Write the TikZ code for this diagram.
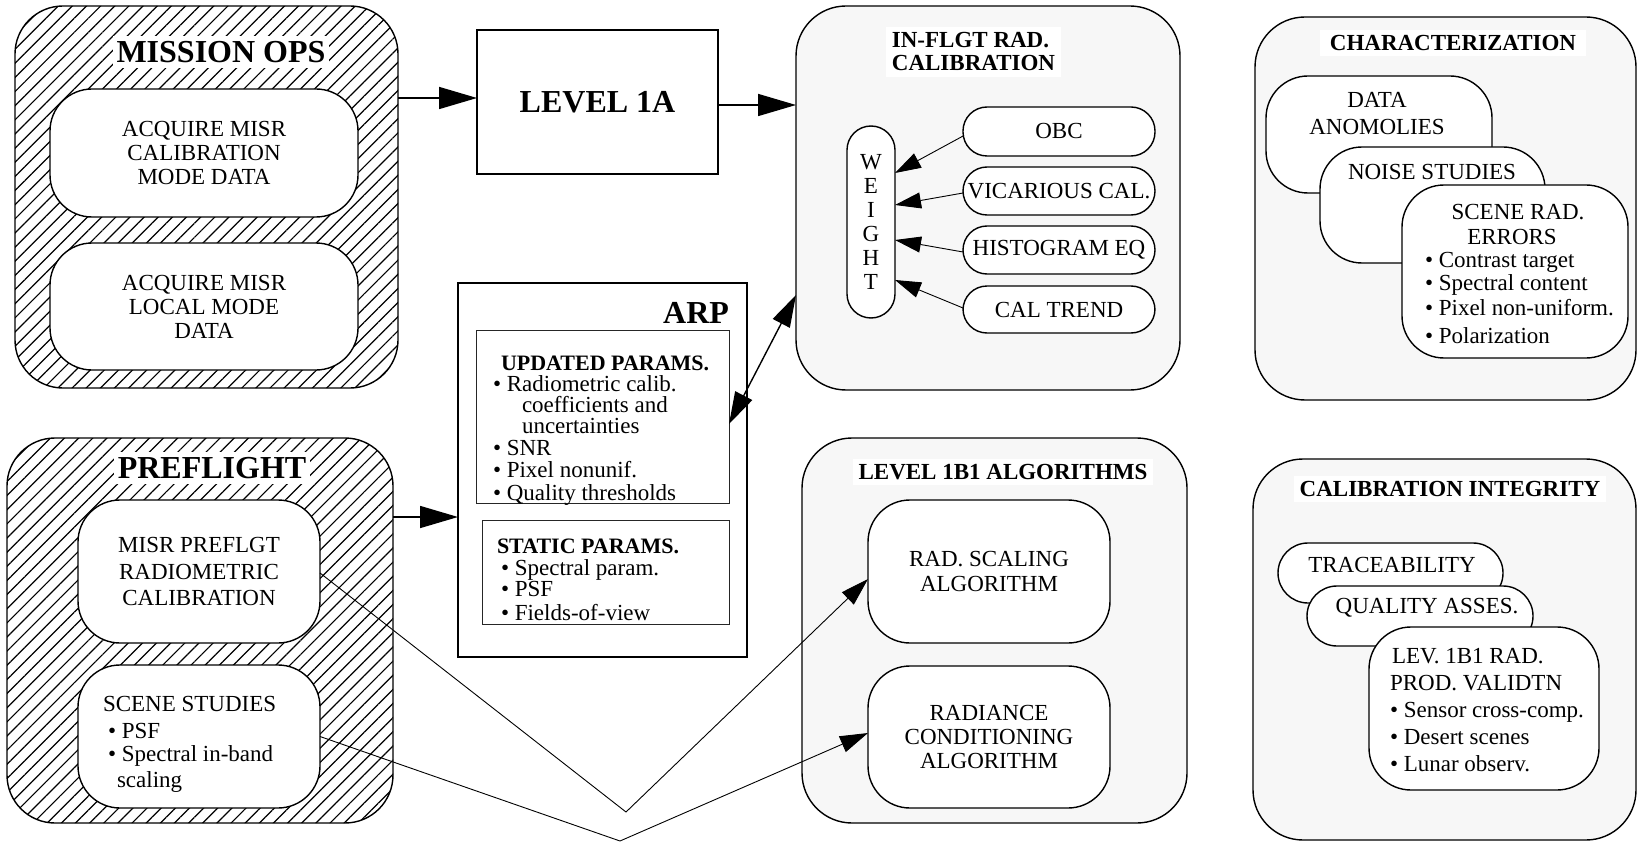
\documentclass[tikz,border=0pt]{standalone}
\usepackage{fontspec}
\setmainfont{Liberation Serif}
\usetikzlibrary{arrows.meta,patterns.meta,calc}
\definecolor{panel}{RGB}{247,247,247}
\begin{document}
\begin{tikzpicture}[x=1pt,y=-1pt,
 every node/.style={inner sep=0pt, outer sep=0pt},
 body/.style={font=\fontsize{23}{24}\selectfont},
 btitle/.style={font=\bfseries\fontsize{32}{34}\selectfont, fill=white, inner xsep=4pt, inner ysep=5pt},
 stitle/.style={font=\bfseries\fontsize{23}{23}\selectfont, fill=white, inner xsep=10pt, inner ysep=5pt},
 ptitle/.style={font=\bfseries\fontsize{22}{22}\selectfont},
 hatched/.style={draw, line width=1.4pt, rounded corners=48pt, preaction={fill=white}, pattern={Lines[angle=45,distance=10pt,line width=1.2pt]}},
 panelbox/.style={draw, line width=1.4pt, rounded corners=50pt, fill=panel},
 rbox/.style={draw, line width=1.4pt, rounded corners=42pt, fill=white, align=center, body},
 sbox/.style={draw, line width=1.4pt, rounded corners=30pt, fill=white},
 pill/.style={draw, line width=1.4pt, rounded corners=24pt, fill=white, body},
 plain/.style={draw, line width=1.5pt},
 thinbox/.style={draw=black!85, line width=0.8pt},
 bigarrow/.style={line width=1.6pt, -{Triangle[length=38pt,width=22pt]}},
 thinarrow/.style={line width=0.9pt, -{Triangle[length=28pt,width=17pt]}},
 warrow/.style={line width=0.9pt, -{Triangle[length=26pt,width=16pt]}},
 dblarrow/.style={line width=1.4pt, {Triangle[length=32pt,width=19pt]}-{Triangle[length=32pt,width=19pt]}},
]
\useasboundingbox (0,0) rectangle (1637,842);

% ---------- MISSION OPS ----------
\node[hatched, minimum width=383pt, minimum height=382pt] (mission) at (206.5,197) {};
\node[btitle] (missiont) at (221,52) {MISSION OPS};
\node[rbox, minimum width=308pt, minimum height=128pt] (mi1) at (204,153) {ACQUIRE MISR\\CALIBRATION\\MODE DATA};
\node[rbox, minimum width=308pt, minimum height=127pt] (mi2) at (204,306.5) {ACQUIRE MISR\\LOCAL MODE\\DATA};

% ---------- LEVEL 1A ----------
\node[plain, minimum width=241pt, minimum height=144pt, font=\bfseries\fontsize{32}{34}\selectfont] (lvl) at (597.5,102) {LEVEL 1A};

% ---------- PREFLIGHT ----------
\node[hatched, minimum width=386pt, minimum height=385pt] (pre) at (200,630.5) {};
\node[btitle] (pret) at (212,468) {PREFLIGHT};
\node[rbox, minimum width=242pt, minimum height=143pt, font=\fontsize{23}{26.5}\selectfont] (pf1) at (199,571.5) {MISR PREFLGT\\RADIOMETRIC\\CALIBRATION};
\node[rbox, minimum width=242pt, minimum height=143pt] (pf2) at (199,736.5) {};
\node[body, anchor=base west] (pf2a) at (103,711) {SCENE STUDIES};
\node[body, anchor=base west] (pf2b) at (108,738) {\textbullet\ PSF};
\node[body, anchor=base west] (pf2c) at (108,761) {\textbullet\ Spectral in-band};
\node[body, anchor=base west] (pf2d) at (117,787) {scaling};

% ---------- ARP ----------
\node[plain, minimum width=289pt, minimum height=374pt, fill=white] (arp) at (602.5,470) {};
\node[btitle, fill=none, inner sep=0pt, anchor=east] (arpt) at (729,313) {ARP};
\node[thinbox, minimum width=253pt, minimum height=173pt] (upd) at (602.5,416.5) {};
\node[ptitle, anchor=base west] (upda) at (501,370) {UPDATED PARAMS.};
\node[body, anchor=base west] (updb) at (493,391) {\textbullet\ Radiometric calib.};
\node[body, anchor=base west] (updc) at (522,412) {coefficients and};
\node[body, anchor=base west] (updd) at (522,433) {uncertainties};
\node[body, anchor=base west] (upde) at (493,455) {\textbullet\ SNR};
\node[body, anchor=base west] (updf) at (493,477) {\textbullet\ Pixel nonunif.};
\node[body, anchor=base west] (updg) at (493,500) {\textbullet\ Quality thresholds};
\node[thinbox, minimum width=247pt, minimum height=104pt] (sta) at (605.5,572) {};
\node[ptitle, anchor=base west] (staa) at (497,553) {STATIC PARAMS.};
\node[body, anchor=base west] (stab) at (501,575) {\textbullet\ Spectral param.};
\node[body, anchor=base west] (stac) at (501,596) {\textbullet\ PSF};
\node[body, anchor=base west] (stad) at (501,620) {\textbullet\ Fields-of-view};

% ---------- IN-FLIGHT ----------
\node[panelbox, minimum width=384pt, minimum height=384pt] (inflight) at (988,198) {};
\node[stitle, align=left, inner xsep=6pt, inner ysep=6pt, font=\bfseries\fontsize{23}{23}\selectfont] (inflightt) at (973.5,52) {IN-FLGT RAD.\\CALIBRATION};
\node[pill, minimum width=48pt, minimum height=192pt, align=center] (weight) at (871,222) {W\\E\\I\\G\\H\\T};
\node[pill, minimum width=192pt, minimum height=49pt] (obc) at (1059,131.5) {OBC};
\node[pill, minimum width=192pt, minimum height=48pt] (vic) at (1059,191) {VICARIOUS CAL.};
\node[pill, minimum width=192pt, minimum height=48pt] (hist) at (1059,250) {HISTOGRAM EQ};
\node[pill, minimum width=192pt, minimum height=47pt] (cal) at (1059,309.5) {CAL TREND};

% ---------- LEVEL 1B1 ----------
\node[panelbox, minimum width=385pt, minimum height=385pt] (l1b) at (994.5,630.5) {};
\node[stitle, inner xsep=6pt] (l1bt) at (1003,472) {LEVEL 1B1 ALGORITHMS};
\node[rbox, minimum width=242pt, minimum height=143pt, font=\fontsize{23}{25}\selectfont] (rs) at (989,571.5) {RAD. SCALING\\ALGORITHM};
\node[rbox, minimum width=242pt, minimum height=142pt] (rc) at (989,737) {RADIANCE\\CONDITIONING\\ALGORITHM};

% ---------- CHARACTERIZATION ----------
\node[panelbox, minimum width=381pt, minimum height=383pt] (char) at (1445.5,208.5) {};
\node[stitle] (chart) at (1453,43) {CHARACTERIZATION};
\node[rbox, minimum width=226pt, minimum height=117pt] (da) at (1379,134.5) {};
\node[body, anchor=base] (daa) at (1377,108) {DATA};
\node[body, anchor=base] (dab) at (1377,135) {ANOMOLIES};
\node[rbox, minimum width=225pt, minimum height=116pt] (ns) at (1432.5,205) {};
\node[body, anchor=base] (nsa) at (1432,180) {NOISE STUDIES};
\node[rbox, minimum width=226pt, minimum height=173pt] (sr) at (1515,271.5) {};
\node[body, anchor=base] (sra) at (1518,220) {SCENE RAD.};
\node[body, anchor=base] (srb) at (1512,245) {ERRORS};
\node[body, anchor=base west] (src) at (1425,268) {\textbullet\ Contrast target};
\node[body, anchor=base west] (srd) at (1425,290) {\textbullet\ Spectral content};
\node[body, anchor=base west] (sre) at (1425,315) {\textbullet\ Pixel non-uniform.};
\node[body, anchor=base west] (srf) at (1425,343) {\textbullet\ Polarization};

% ---------- CALIBRATION INTEGRITY ----------
\node[panelbox, minimum width=383pt, minimum height=381pt] (ci) at (1444.5,649.5) {};
\node[stitle, inner xsep=6pt] (cit) at (1450,489) {CALIBRATION INTEGRITY};
\node[sbox, minimum width=225pt, minimum height=60pt] (tr) at (1390.5,573) {};
\node[body, anchor=base] (tra) at (1392,572) {TRACEABILITY};
\node[sbox, minimum width=226pt, minimum height=60pt] (qa) at (1420,616) {};
\node[body, anchor=base] (qaa) at (1427,613) {QUALITY ASSES.};
\node[rbox, minimum width=230pt, minimum height=163pt] (lv) at (1484,708.5) {};
\node[body, anchor=base west] (lva) at (1392,663) {LEV. 1B1 RAD.};
\node[body, anchor=base west] (lvb) at (1390,690) {PROD. VALIDTN};
\node[body, anchor=base west] (lvc) at (1390,717) {\textbullet\ Sensor cross-comp.};
\node[body, anchor=base west] (lvd) at (1390,744) {\textbullet\ Desert scenes};
\node[body, anchor=base west] (lve) at (1390,771) {\textbullet\ Lunar observ.};

% ---------- CONNECTORS ----------
\draw[bigarrow] ($(mission.east)+(0,-99)$) -- ($(lvl.west)+(0,-4)$);
\draw[bigarrow] ($(lvl.east)+(0,3)$) -- ($(inflight.west)+(0,-93)$);
\draw[bigarrow] ($(pre.east)+(0,-113.5)$) -- ($(arp.west)+(0,47)$);
\draw[dblarrow] ($(upd.east)+(0,7.5)$) -- ($(inflight.west)+(0,97)$);

\draw[warrow] ($(obc.west)+(1,4)$) -- ($(weight.north east)+(0,47)$);
\draw[warrow] ($(vic.west)+(0,2)$) -- ($(weight.north east)+(0,79)$);
\draw[warrow] ($(hist.west)+(0,2)$) -- ($(weight.north east)+(0,114)$);
\draw[warrow] ($(cal.west)+(0,-1.5)$) -- ($(weight.north east)+(0,154)$);

\coordinate (v1) at (626,812);
\coordinate (v2) at (620,841);
\draw[thinarrow] ($(pf1.east)+(0,1.5)$) -- (v1) -- ($(rs.west)+(0,7.5)$);
\draw[thinarrow] (pf2.east) -- (v2) -- ($(rc.west)+(0,-4)$);
\end{tikzpicture}
\end{document}
